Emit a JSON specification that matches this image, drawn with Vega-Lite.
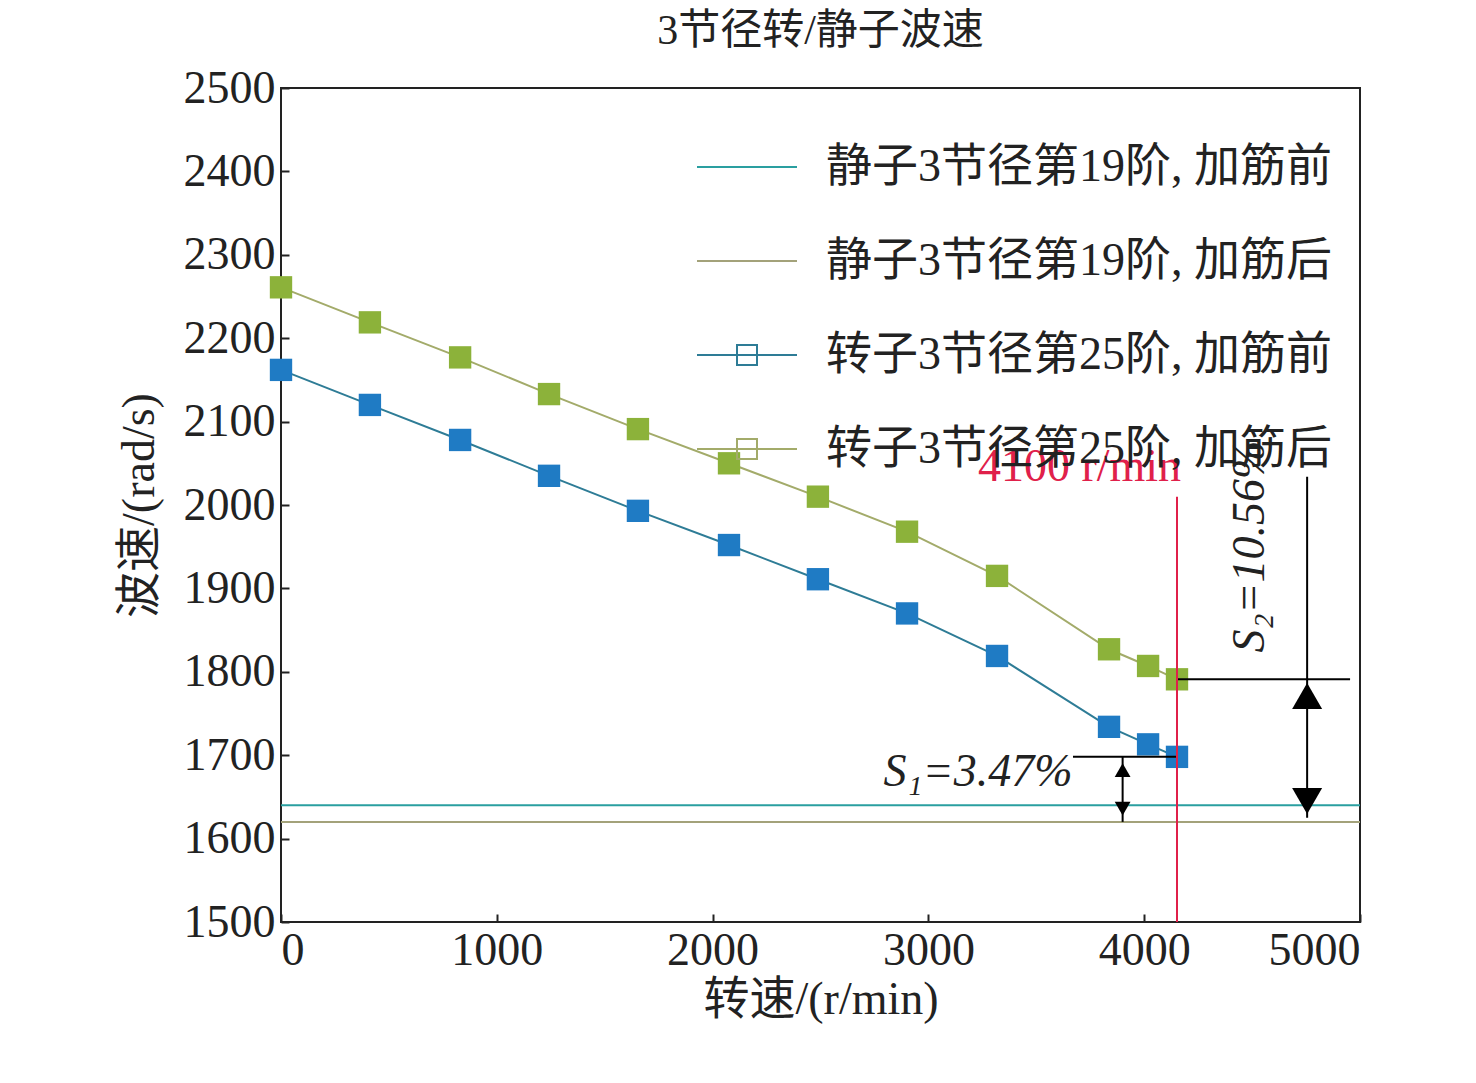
{
  "$schema": "https://vega.github.io/schema/vega-lite/v6.json",
  "width": 1079,
  "height": 834,
  "autosize": "none",
  "padding": {"left": 281, "top": 88, "right": 116, "bottom": 161},
  "background": "white",
  "title": {"text": "3节径转/静子波速", "font": "Liberation Serif, Noto Sans CJK SC", "fontSize": 42, "fontWeight": "normal", "color": "#222", "offset": 12},
  "config": {
    "view": {"stroke": "#222", "strokeWidth": 2},
    "axis": {"labelFont": "Liberation Serif", "labelFontSize": 46, "labelColor": "#222", "titleFont": "Liberation Serif, Noto Sans CJK SC", "titleFontSize": 46, "titleFontWeight": "normal", "titleColor": "#222", "grid": false, "domain": false, "tickColor": "#222", "tickSize": -8, "tickWidth": 2, "format": "d"}
  },
  "encoding": {
    "x": {"field": "rpm", "type": "quantitative", "title": "转速/(r/min)", "scale": {"domain": [0, 5000], "zero": false}, "axis": {"values": [0, 1000, 2000, 3000, 4000, 5000], "labelPadding": 14}},
    "y": {"field": "v", "type": "quantitative", "title": "波速/(rad/s)", "scale": {"domain": [1500, 2500], "zero": false}, "axis": {"values": [1500, 1600, 1700, 1800, 1900, 2000, 2100, 2200, 2300, 2400, 2500], "labelPadding": 14, "titlePadding": 20}}
  },
  "datasets": {
    "curves": [
      {"rpm": 0, "v": 2162, "s": "转子3节径第25阶, 加筋前"},
      {"rpm": 412, "v": 2120, "s": "转子3节径第25阶, 加筋前"},
      {"rpm": 830, "v": 2078, "s": "转子3节径第25阶, 加筋前"},
      {"rpm": 1242, "v": 2035, "s": "转子3节径第25阶, 加筋前"},
      {"rpm": 1654, "v": 1993, "s": "转子3节径第25阶, 加筋前"},
      {"rpm": 2076, "v": 1952, "s": "转子3节径第25阶, 加筋前"},
      {"rpm": 2488, "v": 1911, "s": "转子3节径第25阶, 加筋前"},
      {"rpm": 2901, "v": 1870, "s": "转子3节径第25阶, 加筋前"},
      {"rpm": 3318, "v": 1819, "s": "转子3节径第25阶, 加筋前"},
      {"rpm": 3837, "v": 1734, "s": "转子3节径第25阶, 加筋前"},
      {"rpm": 4018, "v": 1713, "s": "转子3节径第25阶, 加筋前"},
      {"rpm": 4152, "v": 1698, "s": "转子3节径第25阶, 加筋前"},
      {"rpm": 0, "v": 2261, "s": "转子3节径第25阶, 加筋后"},
      {"rpm": 412, "v": 2219, "s": "转子3节径第25阶, 加筋后"},
      {"rpm": 830, "v": 2177, "s": "转子3节径第25阶, 加筋后"},
      {"rpm": 1242, "v": 2133, "s": "转子3节径第25阶, 加筋后"},
      {"rpm": 1654, "v": 2091, "s": "转子3节径第25阶, 加筋后"},
      {"rpm": 2076, "v": 2050, "s": "转子3节径第25阶, 加筋后"},
      {"rpm": 2488, "v": 2010, "s": "转子3节径第25阶, 加筋后"},
      {"rpm": 2901, "v": 1968, "s": "转子3节径第25阶, 加筋后"},
      {"rpm": 3318, "v": 1915, "s": "转子3节径第25阶, 加筋后"},
      {"rpm": 3837, "v": 1827, "s": "转子3节径第25阶, 加筋后"},
      {"rpm": 4018, "v": 1807, "s": "转子3节径第25阶, 加筋后"},
      {"rpm": 4152, "v": 1791, "s": "转子3节径第25阶, 加筋后"}
    ],
    "stator": [
      {"v": 1640, "s": "静子3节径第19阶, 加筋前"},
      {"v": 1620, "s": "静子3节径第19阶, 加筋后"}
    ]
  },
  "layer": [
    {
      "data": {"name": "stator"},
      "mark": {"type": "rule", "strokeWidth": 2},
      "encoding": {
        "x": null,
        "color": {"field": "s", "type": "nominal"}
      }
    },
    {
      "data": {"name": "curves"},
      "mark": {"type": "line", "strokeWidth": 2},
      "encoding": {
        "color": {"field": "s", "type": "nominal"}
      }
    },
    {
      "data": {"name": "curves"},
      "mark": {"type": "point", "filled": true, "opacity": 1, "size": 500, "shape": "square"},
      "encoding": {
        "fill": {"field": "s", "type": "nominal", "scale": {"range": ["#1f7bc4", "#8cb23a"]}, "legend": null}
      }
    },
    {
      "data": {"values": [
        {"rpm": 3670, "rpm2": 4152, "v": 1698, "v2": 1698},
        {"rpm": 4152, "rpm2": 4954, "v": 1791, "v2": 1791},
        {"rpm": 4755, "rpm2": 4755, "v": 2034, "v2": 1625},
        {"rpm": 3900, "rpm2": 3900, "v": 1698, "v2": 1620}
      ]},
      "mark": {"type": "rule", "color": "black", "strokeWidth": 2},
      "encoding": {"x2": {"field": "rpm2"}, "y2": {"field": "v2"}}
    },
    {
      "data": {"values": [
        {"rpm": 3900, "v": 1682, "sh": "triangle-up", "sz": 250},
        {"rpm": 3900, "v": 1636, "sh": "triangle-down", "sz": 250},
        {"rpm": 4755, "v": 1771, "sh": "triangle-up", "sz": 900},
        {"rpm": 4755, "v": 1645, "sh": "triangle-down", "sz": 900}
      ]},
      "mark": {"type": "point", "filled": true, "color": "black", "opacity": 1},
      "encoding": {
        "shape": {"field": "sh", "type": "nominal", "scale": null},
        "size": {"field": "sz", "type": "quantitative", "scale": null}
      }
    },
    {
      "data": {"values": [{"rpm": 4152, "v": 1500, "v2": 2010}]},
      "mark": {"type": "rule", "color": "#e0204a", "strokeWidth": 2},
      "encoding": {"y2": {"field": "v2"}}
    },
    {
      "data": {"values": [{"rpm": 3700, "v": 2045, "t": "4100 r/min"}]},
      "mark": {"type": "text", "font": "Liberation Serif", "fontSize": 46, "color": "#e0204a"},
      "encoding": {"text": {"field": "t"}}
    },
    {
      "data": {"values": [{"rpm": 3230, "v": 1680, "t": "S₁=3.47%"}]},
      "mark": {"type": "text", "font": "Liberation Serif", "fontSize": 46, "fontStyle": "italic", "color": "#222"},
      "encoding": {"text": {"field": "t"}}
    },
    {
      "data": {"values": [{"rpm": 4490, "v": 1950, "t": "S₂=10.56%"}]},
      "mark": {"type": "text", "font": "Liberation Serif", "fontSize": 46, "fontStyle": "italic", "color": "#222", "angle": 270},
      "encoding": {"text": {"field": "t"}}
    },
    {
      "data": {"values": [
        {"s": "静子3节径第19阶, 加筋前", "rpm": 0, "v": 1500},
        {"s": "静子3节径第19阶, 加筋后", "rpm": 0, "v": 1500},
        {"s": "转子3节径第25阶, 加筋前", "rpm": 0, "v": 1500},
        {"s": "转子3节径第25阶, 加筋后", "rpm": 0, "v": 1500}
      ]},
      "mark": {"type": "point", "filled": false, "opacity": 0},
      "encoding": {
        "shape": {"field": "s", "type": "nominal",
          "scale": {"domain": ["静子3节径第19阶, 加筋前", "静子3节径第19阶, 加筋后", "转子3节径第25阶, 加筋前", "转子3节径第25阶, 加筋后"],
                    "range": ["M-1,0H1", "M-1,0H1", "M-1,0H1M-0.2,-0.2H0.2V0.2H-0.2Z", "M-1,0H1M-0.2,-0.2H0.2V0.2H-0.2Z"]},
          "legend": {"title": null, "orient": "top-right", "offset": 28, "labelFont": "Liberation Serif, Noto Sans CJK SC", "labelFontSize": 46, "labelColor": "#222", "symbolSize": 10000, "symbolStrokeWidth": 2, "symbolOpacity": 1, "rowPadding": 20, "labelOffset": 28, "labelLimit": 800}},
        "color": {"field": "s", "type": "nominal",
          "scale": {"domain": ["静子3节径第19阶, 加筋前", "静子3节径第19阶, 加筋后", "转子3节径第25阶, 加筋前", "转子3节径第25阶, 加筋后"],
                    "range": ["#2a9fa0", "#a3a27a", "#2e7c96", "#a3ab6a"]},
          "legend": {"title": null, "orient": "top-right", "offset": 28, "labelFont": "Liberation Serif, Noto Sans CJK SC", "labelFontSize": 46, "labelColor": "#222", "symbolSize": 10000, "symbolStrokeWidth": 2, "symbolOpacity": 1, "rowPadding": 20, "labelOffset": 28, "labelLimit": 800}}
      }
    }
  ]
}
